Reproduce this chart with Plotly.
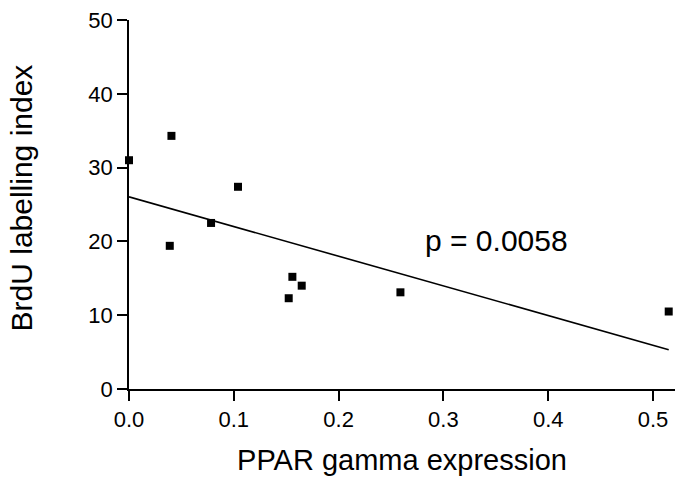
import numpy as np
import plotly.graph_objects as go

# Data
ppar_gamma = [0.0, 0.0389, 0.0405, 0.0783, 0.104, 0.1524, 0.1559, 0.1648, 0.259, 0.515]
brdu_index = [31.0, 19.4, 34.3, 22.5, 27.4, 12.3, 15.2, 14.0, 13.1, 10.5]
x_ticks = [0.0, 0.1, 0.2, 0.3, 0.4, 0.5]
y_ticks = [0, 10, 20, 30, 40, 50]
p_label = "p = 0.0058"
x_title = "PPAR gamma expression"
y_title = "BrdU labelling index"

# Linear regression line from the data
slope, intercept = np.polyfit(ppar_gamma, brdu_index, 1)
fit_x = [0.0, max(ppar_gamma)]
fit_y = [intercept + slope * v for v in fit_x]

FONT = "Liberation Sans, Arial, sans-serif"

fig = go.Figure()
fig.add_trace(go.Scatter(
    x=fit_x, y=fit_y, mode="lines",
    line=dict(color="black", width=1.6),
    hoverinfo="skip", showlegend=False, cliponaxis=False,
))
fig.add_trace(go.Scatter(
    x=ppar_gamma, y=brdu_index, mode="markers",
    marker=dict(symbol="square", size=8, color="black", line=dict(width=0)),
    showlegend=False, cliponaxis=False,
))

fig.add_annotation(
    x=0.281, y=20.1, xref="x", yref="y", text=p_label, showarrow=False,
    xanchor="left", yanchor="middle", font=dict(family=FONT, size=30, color="black"),
)
# y-axis title
fig.add_annotation(
    x=-0.196, y=0.519, xref="paper", yref="paper", text=y_title, showarrow=False,
    textangle=-90, xanchor="center", yanchor="middle",
    font=dict(family=FONT, size=30, color="black"),
)

fig.update_layout(
    width=675, height=479,
    margin=dict(l=129, r=0, t=20, b=90, autoexpand=False),
    paper_bgcolor="white", plot_bgcolor="white",
    font=dict(family=FONT, color="black"),
    xaxis=dict(
        range=[0, 0.521], tickvals=x_ticks, ticktext=[f"{v:.1f}" for v in x_ticks],
        showgrid=False, zeroline=False, showline=True, linecolor="black", linewidth=1.6,
        ticks="outside", ticklen=10, tickwidth=1.6, tickcolor="black", automargin=False,
        ticklabeloverflow="allow",
        tickfont=dict(size=22, family=FONT, color="black"),
        title=dict(text=x_title, font=dict(size=29, family=FONT, color="black"), standoff=18),
    ),
    yaxis=dict(
        range=[0, 50], tickvals=y_ticks,
        showgrid=False, zeroline=False, showline=True, linecolor="black", linewidth=1.6,
        ticks="outside", ticklen=10, tickwidth=1.6, tickcolor="black", automargin=False,
        ticklabeloverflow="allow",
        tickfont=dict(size=22, family=FONT, color="black"),
    ),
)

# remove the page's default 8px body margin so the figure fills the window exactly
fig.write_html(
    "out.html",
    config={"displayModeBar": False},
    post_script="document.body.style.margin='0';",
)
